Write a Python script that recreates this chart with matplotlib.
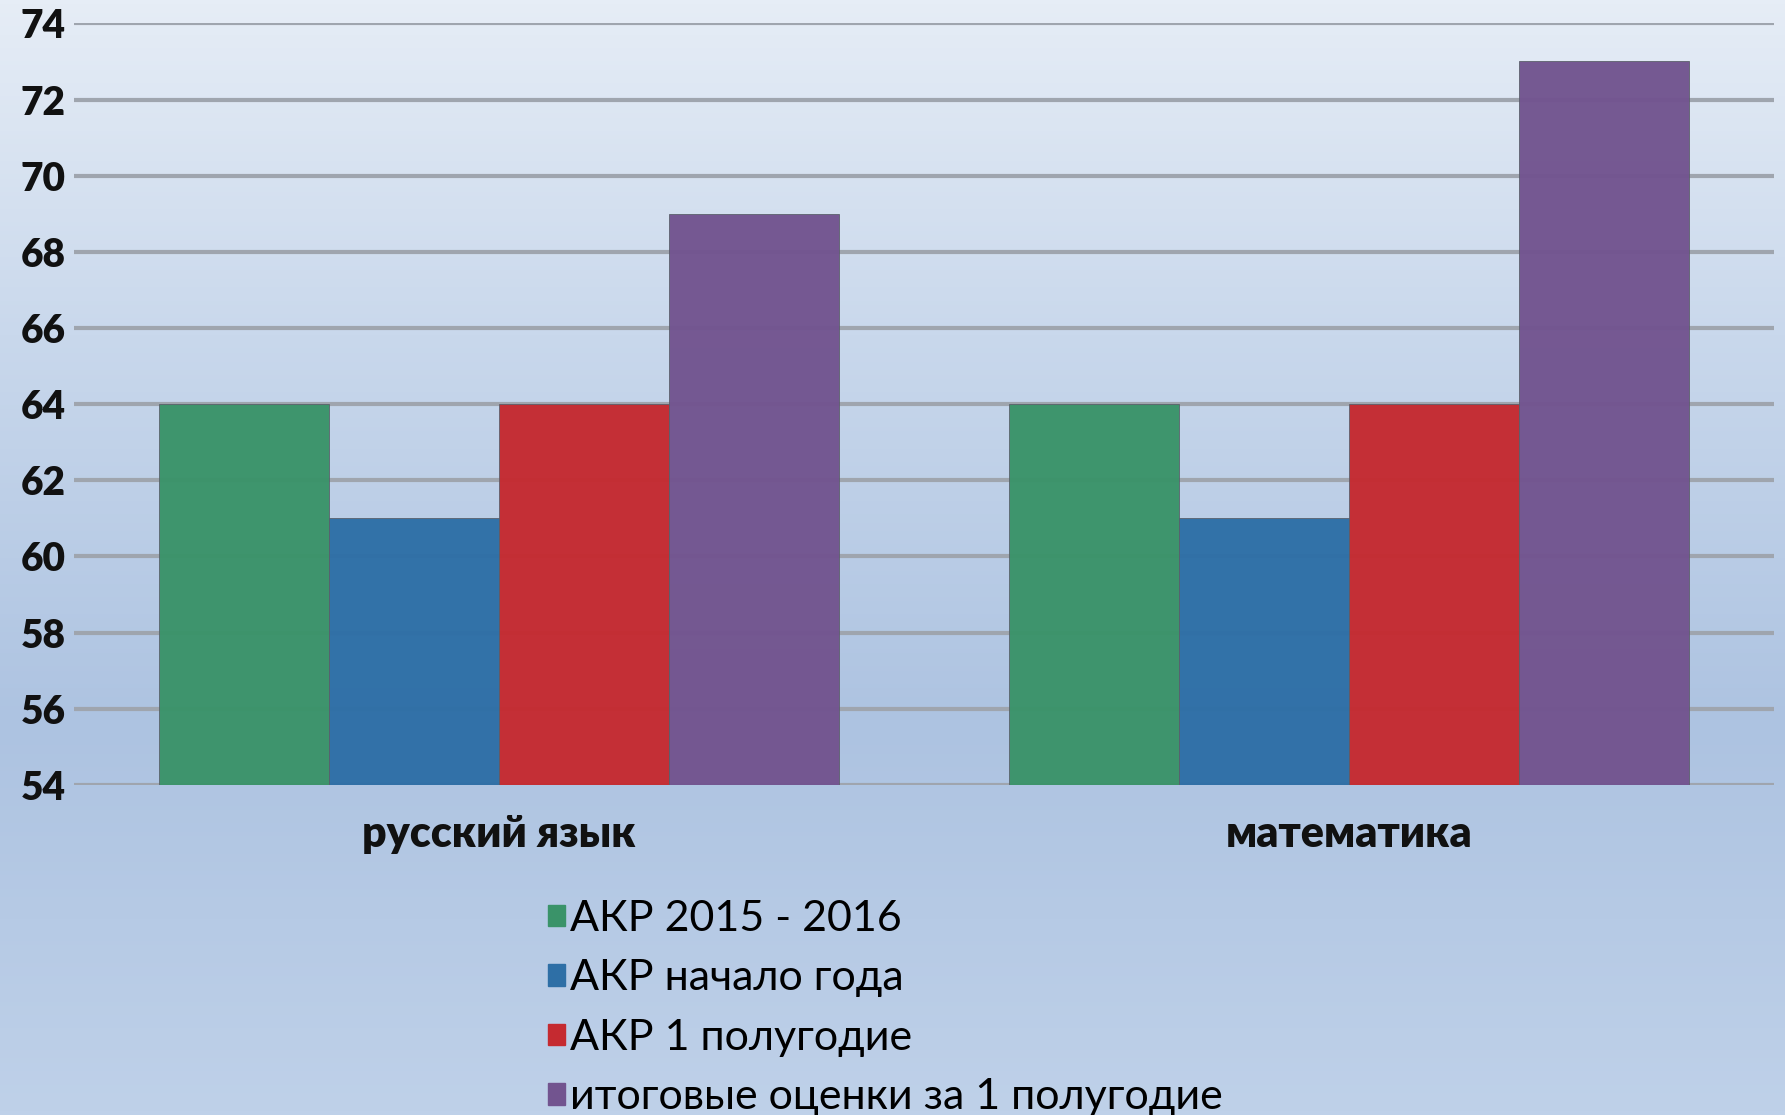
import numpy as np
import matplotlib
matplotlib.use("Agg")
import matplotlib.pyplot as plt
import matplotlib.patches as mpatches
from matplotlib.colors import LinearSegmentedColormap

plt.rcParams['font.family'] = ['Lato', 'DejaVu Sans']

# data
categories = ['русский язык', 'математика']
series_names = ['АКР 2015 - 2016', 'АКР начало года', 'АКР 1 полугодие',
                'итоговые оценки за 1 полугодие']
values_rus = [64, 61, 64, 69]
values_math = [64, 61, 64, 73]
colors = ['#3a9369', '#2e6fa6', '#c52a30', '#72548f']
y_ticks = [54, 56, 58, 60, 62, 64, 66, 68, 70, 72, 74]

fig = plt.figure(figsize=(17.85, 11.15), dpi=100)

# background gradient (top light -> mid blue -> bottom lighter)
bg = fig.add_axes([0, 0, 1, 1], zorder=-10)
cmap = LinearSegmentedColormap.from_list(
    'bg', [(0.0, '#bfd1e9'), (0.35, '#adc3e1'), (0.7, '#c9d8ec'), (1.0, '#e6edf6')])
grad = np.linspace(0, 1, 256).reshape(-1, 1)
bg.imshow(grad, aspect='auto', cmap=cmap, origin='lower', extent=[0, 1, 0, 1])
bg.axis('off')

ax = fig.add_axes([0.0415, 0.296, 0.9523, 0.683])
ax.set_facecolor('none')

x = np.arange(len(categories))
width = 0.2
data = np.array([values_rus, values_math])
for i, name in enumerate(series_names):
    ax.bar(x - 0.3 + i * width, data[:, i] - 54, width, bottom=54, color=colors[i],
           edgecolor='#5a5f6a', linewidth=0.6, alpha=0.97, zorder=3, label=name)

ax.set_xlim(-0.5, 1.5)
ax.set_ylim(54, 74)
ax.set_yticks(y_ticks)
ax.set_yticklabels([str(t) for t in y_ticks], fontsize=28, fontweight='heavy')
ax.set_xticks(x)
ax.set_xticklabels(categories, fontsize=31, fontweight='heavy')
ax.tick_params(axis='both', length=0, colors='#111111')
ax.tick_params(axis='y', pad=6)
ax.tick_params(axis='x', pad=21)
ax.yaxis.grid(True, color='#9fa5ae', linewidth=3, zorder=1)
for s in ax.spines.values():
    s.set_visible(False)

handles = [mpatches.Patch(color=c, label=n) for c, n in zip(colors, series_names)]
fig.legend(handles=handles, loc='upper left', bbox_to_anchor=(0.307, 0.193),
           frameon=False, fontsize=31, handlelength=0.4, handleheight=0.4,
           handletextpad=0.12, labelspacing=0.5, borderaxespad=0, borderpad=0)

fig.savefig('out.png', dpi=100)
